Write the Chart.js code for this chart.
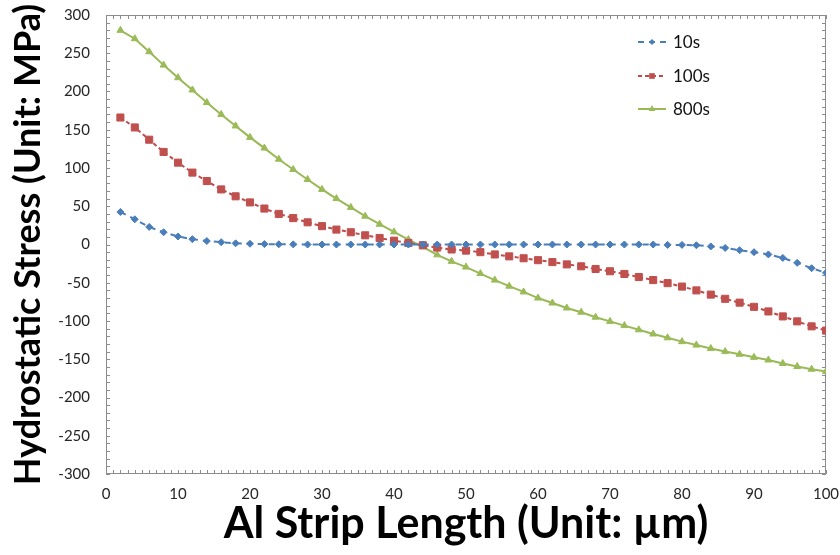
<!DOCTYPE html>
<html>
<head>
<meta charset="utf-8">
<style>
  html, body { margin: 0; padding: 0; background: #ffffff; }
  #wrap { width: 840px; height: 555px; }
</style>
<script src="https://cdn.jsdelivr.net/npm/chart.js@4/dist/chart.umd.min.js"></script>
</head>
<body>
<div id="wrap"><canvas id="c" width="840" height="555"></canvas></div>
<script>
// Position along the Al strip (µm)
const lengths = [2, 4, 6, 8, 10, 12, 14, 16, 18, 20, 22, 24, 26, 28, 30, 32, 34, 36, 38, 40,
                 42, 44, 46, 48, 50, 52, 54, 56, 58, 60, 62, 64, 66, 68, 70, 72, 74, 76, 78, 80,
                 82, 84, 86, 88, 90, 92, 94, 96, 98, 100];

// Hydrostatic stress (MPa) after 10 s, 100 s and 800 s
const stress10s = [42.5, 33, 23, 16, 10.5, 7, 4.5, 3, 1.5, 1, 0.5, 0.3, 0.2, 0, 0, 0, 0, 0, 0, 0,
                   0, 0, 0, 0, 0, 0, 0, 0, 0, 0, 0, 0, 0, 0, 0, 0, 0, 0, -0.5, -0.5,
                   -1, -2.5, -4.5, -7.5, -10, -13, -17.5, -24, -31, -37];
const stress100s = [166, 153, 137, 121, 107, 94, 83, 72, 63, 55, 47, 40, 34.5, 29, 24, 19.5, 16, 12, 8.5, 5,
                    2, -1, -4, -6.5, -8, -10, -13, -15.5, -18, -20.5, -23, -26, -28.5, -32, -35, -38.5, -42.5, -46.5, -50.5, -55,
                    -60, -65.5, -71, -76, -81.5, -87.5, -94, -100.5, -107, -112.5];
const stress800s = [280, 269, 252, 234.5, 218, 202, 185.5, 170, 155, 140, 126, 111.5, 98, 85, 72, 60, 48.5, 37, 26.5, 16.5,
                    6.5, -3, -13.5, -22, -29.5, -38, -46.5, -54.5, -62, -70, -76.5, -83, -88.5, -95, -100.5, -106, -111.5, -117, -122, -127,
                    -131.5, -136, -140, -143.5, -147.5, -151, -155.5, -159.5, -163, -166];

const seriesNames = ['10s', '100s', '800s'];
const xTickValues = [0, 10, 20, 30, 40, 50, 60, 70, 80, 90, 100];
const yTickValues = [-300, -250, -200, -150, -100, -50, 0, 50, 100, 150, 200, 250, 300];

const toPoints = (ys) => lengths.map((x, i) => ({ x: x, y: ys[i] }));

const FRAME = '#8c8c8c';

// Plot-area frame with short inward tick marks on all four sides
const framePlugin = {
  id: 'frameTicks',
  beforeDatasetsDraw(chart) {
    const { ctx, chartArea: a, scales: { x, y } } = chart;
    ctx.save();
    ctx.strokeStyle = FRAME;
    ctx.lineWidth = 1;
    ctx.beginPath();
    ctx.rect(a.left + 0.5, a.top + 0.5, a.right - a.left - 1, a.bottom - a.top - 1);
    ctx.stroke();
    const len = 4;
    ctx.beginPath();
    for (let v = x.min; v <= x.max; v += 1) {
      const px = Math.round(x.getPixelForValue(v)) + 0.5;
      ctx.moveTo(px, a.bottom); ctx.lineTo(px, a.bottom - len);
      ctx.moveTo(px, a.top); ctx.lineTo(px, a.top + len);
    }
    for (let v = y.min; v <= y.max; v += 10) {
      const py = Math.round(y.getPixelForValue(v)) + 0.5;
      ctx.moveTo(a.left, py); ctx.lineTo(a.left + len, py);
      ctx.moveTo(a.right, py); ctx.lineTo(a.right - len, py);
    }
    ctx.stroke();
    ctx.restore();
  }
};

// Vertical legend in the upper right of the plot, line sample with marker
const legendPlugin = {
  id: 'sideLegend',
  afterDraw(chart) {
    const { ctx } = chart;
    const x0 = 638, x1 = 666, tx = 673;
    const rows = [42, 76, 109];
    const legendRadius = [3, 4, 4];
    chart.data.datasets.forEach((ds, i) => {
      const yy = rows[i];
      ctx.save();
      ctx.strokeStyle = ds.borderColor;
      ctx.lineWidth = 2;
      ctx.setLineDash(ds.borderDash || []);
      ctx.beginPath();
      ctx.moveTo(x0, yy); ctx.lineTo(x1, yy);
      ctx.stroke();
      ctx.setLineDash([]);
      ctx.fillStyle = ds.pointBackgroundColor;
      ctx.strokeStyle = ds.pointBackgroundColor;
      Chart.helpers.drawPoint(ctx, { pointStyle: ds.pointStyle, radius: legendRadius[i], rotation: 0, borderWidth: 0 }, (x0 + x1) / 2, yy);
      ctx.fillStyle = '#111111';
      ctx.font = '17px Lato';
      ctx.textBaseline = 'middle';
      ctx.textAlign = 'left';
      ctx.fillText(ds.label, tx, yy + 1);
      ctx.restore();
    });
  }
};

new Chart(document.getElementById('c'), {
  type: 'line',
  data: {
    datasets: [
      {
        label: seriesNames[0],
        data: toPoints(stress10s),
        borderColor: '#4a7ebb',
        borderWidth: 2,
        borderDash: [6, 5],
        pointStyle: 'rectRot',
        pointRadius: 3.5,
        pointBackgroundColor: '#4a7ebb',
        pointBorderColor: '#4a7ebb',
        pointBorderWidth: 1,
        tension: 0
      },
      {
        label: seriesNames[1],
        data: toPoints(stress100s),
        borderColor: '#be4b48',
        borderWidth: 2,
        borderDash: [4, 3],
        pointStyle: 'rect',
        pointRadius: 5,
        pointBackgroundColor: '#c0504d',
        pointBorderColor: '#c0504d',
        pointBorderWidth: 1,
        tension: 0
      },
      {
        label: seriesNames[2],
        data: toPoints(stress800s),
        borderColor: '#98b954',
        borderWidth: 2,
        pointStyle: 'triangle',
        pointRadius: 4,
        pointBackgroundColor: '#9bbb59',
        pointBorderColor: '#9bbb59',
        pointBorderWidth: 1,
        tension: 0
      }
    ]
  },
  options: {
    responsive: false,
    devicePixelRatio: 1,
    animation: false,
    layout: { padding: { top: 15, right: 14, left: 0, bottom: 0 } },
    plugins: {
      legend: { display: false },
      tooltip: { enabled: false }
    },
    scales: {
      x: {
        type: 'linear',
        min: 0,
        max: 100,
        afterBuildTicks: (s) => { s.ticks = xTickValues.map(v => ({ value: v })); },
        afterFit: (s) => { s.height = 81; s.paddingLeft = 0; s.paddingRight = 0; },
        grid: { display: false, drawTicks: false },
        border: { display: false },
        ticks: {
          padding: 11,
          color: '#262626',
          font: { family: 'Lato', size: 15 }
        },
        title: {
          display: true,
          text: 'Al Strip Length (Unit: µm)',
          color: '#000000',
          font: { family: 'Lato', size: 43, weight: 'bold' },
          padding: { top: 0, bottom: 5 }
        }
      },
      y: {
        type: 'linear',
        min: -300,
        max: 300,
        afterBuildTicks: (s) => { s.ticks = yTickValues.map(v => ({ value: v })); },
        afterFit: (s) => { s.width = 106; s.paddingTop = 0; s.paddingBottom = 0; },
        grid: { display: false, drawTicks: false },
        border: { display: false },
        ticks: {
          padding: 16,
          color: '#262626',
          font: { family: 'Lato', size: 15 }
        },
        title: {
          display: true,
          text: 'Hydrostatic Stress (Unit: MPa)',
          color: '#000000',
          font: { family: 'Lato', size: 36, weight: 'bold' },
          padding: { top: 7, bottom: 0 }
        }
      }
    }
  },
  plugins: [framePlugin, legendPlugin]
});
</script>
</body>
</html>
